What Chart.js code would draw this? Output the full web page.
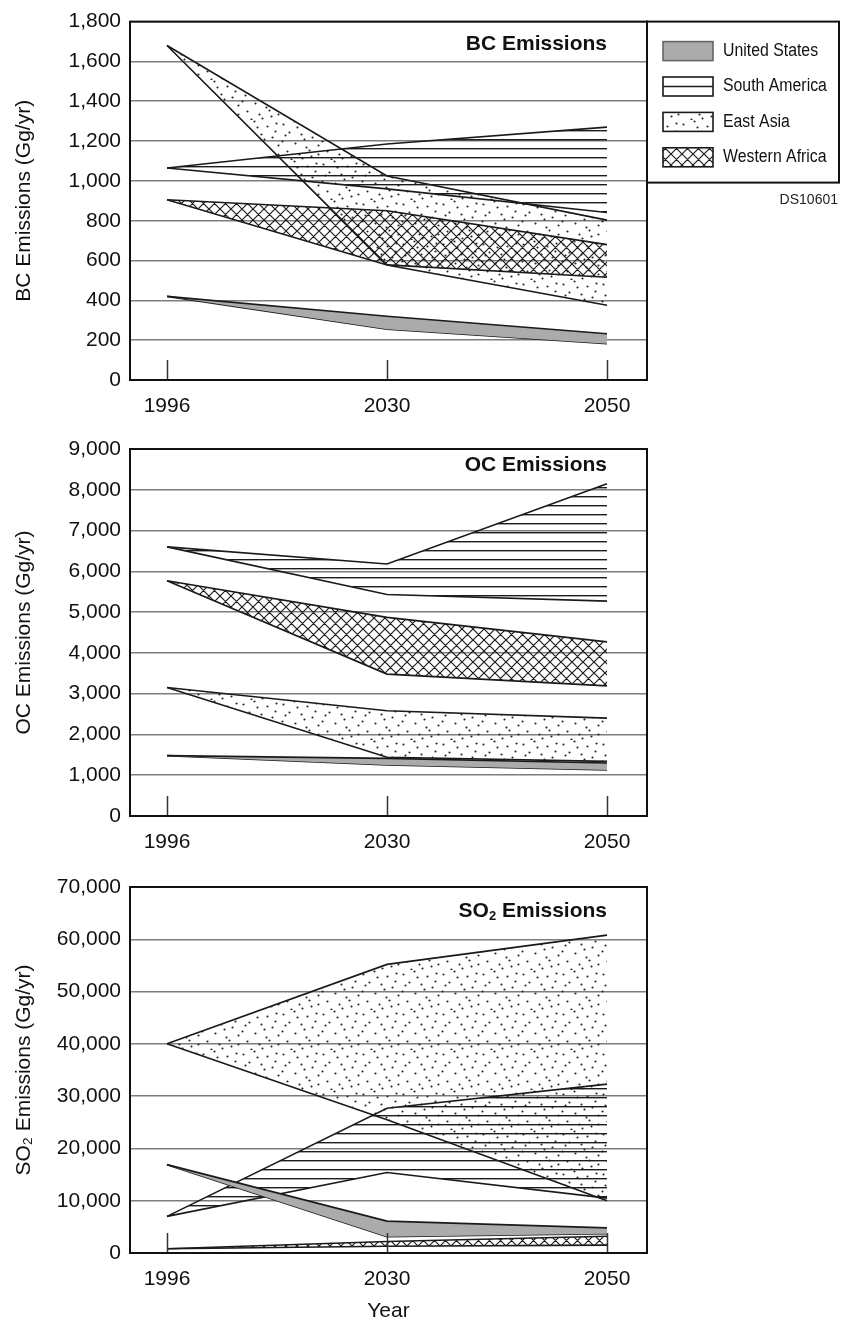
<!DOCTYPE html>
<html><head><meta charset="utf-8">
<script src="https://cdn.jsdelivr.net/npm/chart.js@4.4.1/dist/chart.umd.min.js"></script>
<style>
html,body{margin:0;padding:0;background:#fff;}
body{width:842px;height:1322px;position:relative;overflow:hidden;}
canvas{position:absolute;left:0;}
</style></head><body>
<canvas id="c1" width="842" height="425" style="top:0px"></canvas>
<canvas id="c2" width="842" height="440" style="top:420px"></canvas>
<canvas id="c3" width="842" height="472" style="top:850px"></canvas>
<script>
// ---------- data ----------
const years = ['1996', '2030', '2050'];
const regions = ['United States', 'South America', 'East Asia', 'Western Africa'];

// BC emissions (Gg/yr): high / low scenario envelope
const bcUSHigh = [420, 320, 232];
const bcUSLow  = [420, 255, 182];
const bcSAHigh = [1065, 1185, 1270];
const bcSALow  = [1065, 960, 841];
const bcEAHigh = [1680, 1025, 803];
const bcEALow  = [1680, 578, 375];
const bcWAHigh = [905, 850, 680];
const bcWALow  = [905, 578, 516];
const bcYTicks = [0, 200, 400, 600, 800, 1000, 1200, 1400, 1600, 1800];

// OC emissions (Gg/yr)
const ocUSHigh = [1480, 1414, 1300];
const ocUSLow  = [1480, 1250, 1130];
const ocSAHigh = [6600, 6180, 8150];
const ocSALow  = [6600, 5430, 5270];
const ocEAHigh = [3150, 2580, 2400];
const ocEALow  = [3150, 1440, 1340];
const ocWAHigh = [5770, 4870, 4270];
const ocWALow  = [5770, 3480, 3190];
const ocYTicks = [0, 1000, 2000, 3000, 4000, 5000, 6000, 7000, 8000, 9000];

// SO2 emissions (Gg/yr)
const soUSHigh = [16900, 6100, 4800];
const soUSLow  = [16900, 3100, 3700];
const soSAHigh = [7000, 27700, 32300];
const soSALow  = [7000, 15400, 10500];
const soEAHigh = [40000, 55200, 60800];
const soEALow  = [40000, 25500, 10000];
const soWAHigh = [800, 2200, 3200];
const soWALow  = [800, 1300, 1500];
const soYTicks = [0, 10000, 20000, 30000, 40000, 50000, 60000, 70000];

// ---------- styles ----------
const FONT = "'Liberation Sans', Arial, 'DejaVu Sans', sans-serif";
const INK = '#1a1a1a';

function makePattern(kind) {
  const c = document.createElement('canvas');
  const x = c.getContext('2d');
  if (kind === 'gray') { return '#ababab'; }
  if (kind === 'lines') {
    c.width = 4; c.height = 9;
    x.fillStyle = '#1c1c1c'; x.fillRect(0, 4, 4, 1.4);
  } else if (kind === 'dots') {
    c.width = 40; c.height = 40;
    const pts = [[3,4],[14,1],[27,6],[36,3],[9,12],[21,14],[32,17],[2,21],[15,23],[26,27],
                 [38,25],[7,31],[19,34],[31,36],[11,39],[24,19],[35,11],[5,15],[29,30],[17,7],[38,34],[22,38]];
    x.fillStyle = '#222';
    pts.forEach(([a, b]) => { x.beginPath(); x.arc(a + 0.5, b + 0.5, 1.05, 0, Math.PI * 2); x.fill(); });
  } else if (kind === 'cross') {
    c.width = 11; c.height = 11;
    x.strokeStyle = '#1c1c1c'; x.lineWidth = 1.2;
    x.beginPath();
    [-11, 0, 11].forEach(k => { x.moveTo(k, 0); x.lineTo(k + 11, 11); x.moveTo(k, 11); x.lineTo(k + 11, 0); });
    x.stroke();
  }
  return x.createPattern(c, 'repeat');
}
const regionFill = [makePattern('gray'), makePattern('lines'), makePattern('dots'), makePattern('cross')];
const regionOrder = [1, 3, 4, 2]; // US on top, then W. Africa, S. America, E. Asia

function buildDatasets(pairs) {
  const ds = [];
  pairs.forEach(([hi, lo], r) => {
    const base = ds.length;
    ds.push({ label: regions[r] + ' high', data: years.map((_, i) => ({ x: i, y: hi[i] })),
      borderColor: INK, borderWidth: 1.6, pointRadius: 0, tension: 0,
      backgroundColor: regionFill[r], fill: { target: base + 1 }, order: regionOrder[r] });
    ds.push({ label: regions[r] + ' low', data: years.map((_, i) => ({ x: i, y: lo[i] })),
      borderColor: INK, borderWidth: 1.6, pointRadius: 0, tension: 0, fill: false, order: regionOrder[r] });
  });
  return ds;
}

function decoPlugin(cfg) {
  return {
    id: 'deco',
    afterDatasetsDraw(chart) {
      const ctx = chart.ctx, a = chart.chartArea, xs = chart.scales.x;
      ctx.save();
      ctx.strokeStyle = '#333'; ctx.lineWidth = 1.5;
      years.forEach((_, i) => {
        const px = Math.round(xs.getPixelForValue(i)) + 0.5;
        ctx.beginPath(); ctx.moveTo(px, a.bottom); ctx.lineTo(px, a.bottom - 20); ctx.stroke();
      });
      ctx.restore();
    },
    afterDraw(chart) {
      const ctx = chart.ctx, a = chart.chartArea, xs = chart.scales.x;
      ctx.save();
      ctx.strokeStyle = '#111'; ctx.lineWidth = 2;
      ctx.strokeRect(a.left, a.top, a.right - a.left, a.bottom - a.top);
      // title inside plot, right aligned at last category
      const big = 'bold 21px ' + FONT, small = 'bold 13px ' + FONT;
      let w = 0;
      cfg.title.forEach(([t, sub]) => { ctx.font = sub ? small : big; w += ctx.measureText(t).width; });
      let tx = xs.getPixelForValue(years.length - 1) - w;
      const ty = a.top + cfg.titleOffset;
      ctx.fillStyle = '#111'; ctx.textBaseline = 'middle'; ctx.textAlign = 'left';
      cfg.title.forEach(([t, sub]) => {
        ctx.font = sub ? small : big;
        ctx.fillText(t, tx, sub ? ty + 5 : ty);
        tx += ctx.measureText(t).width;
      });
      if (cfg.legend) {
        const lx = a.right, ly = a.top, lw = 192, lh = 161;
        ctx.lineWidth = 2; ctx.strokeStyle = '#111';
        ctx.strokeRect(lx, ly, lw, lh);
        regions.forEach((name, r) => {
          const cy = ly + 29.5 + r * 35.4;
          const sx = lx + 16, sw = 50, sh = 19, sy = cy - sh / 2;
          ctx.fillStyle = regionFill[r];
          ctx.fillRect(sx, sy, sw, sh);
          ctx.lineWidth = 1.6; ctx.strokeStyle = r === 0 ? '#666' : INK;
          if (r === 1) {
            ctx.fillStyle = '#fff'; ctx.fillRect(sx, sy, sw, sh);
            ctx.beginPath(); ctx.moveTo(sx, cy); ctx.lineTo(sx + sw, cy); ctx.stroke();
          }
          ctx.strokeRect(sx, sy, sw, sh);
          ctx.save();
          ctx.translate(lx + 76, cy);
          ctx.scale(0.88, 1);
          ctx.font = '18px ' + FONT; ctx.fillStyle = '#111'; ctx.textBaseline = 'middle'; ctx.textAlign = 'left';
          ctx.fillText(name, 0, 0);
          ctx.restore();
        });
        ctx.font = '14px ' + FONT; ctx.fillStyle = '#222'; ctx.textAlign = 'right'; ctx.textBaseline = 'middle';
        ctx.fillText('DS10601', lx + lw - 1, ly + lh + 18);
      }
      ctx.restore();
    }
  };
}

function makeChart(id, cfg) {
  const tickFont = { family: FONT, size: 21 };
  return new Chart(document.getElementById(id), {
    type: 'line',
    data: { datasets: buildDatasets(cfg.pairs) },
    options: {
      responsive: false, animation: false, devicePixelRatio: 1,
      layout: { padding: { left: 0, right: 195, top: cfg.padTop, bottom: 0 } },
      plugins: { legend: { display: false }, tooltip: { enabled: false } },
      scales: {
        x: {
          type: 'linear', min: -0.1682, max: 2.1818,
          afterBuildTicks: s => { s.ticks = years.map((_, i) => ({ value: i })); },
          afterFit: s => { s.height = cfg.xAxisH; },
          grid: { display: false, drawTicks: false }, border: { display: false },
          ticks: { callback: v => years[v], font: tickFont, color: '#111', padding: 14, maxRotation: 0, autoSkip: false },
          title: { display: !!cfg.xTitle, text: cfg.xTitle || '', font: { family: FONT, size: 21, lineHeight: 1.0 }, color: '#111', padding: { top: 0, bottom: 0 } }
        },
        y: {
          min: 0, max: cfg.yTicks[cfg.yTicks.length - 1],
          afterBuildTicks: s => { s.ticks = cfg.yTicks.map(v => ({ value: v })); },
          afterFit: s => { s.width = 130; },
          grid: { color: '#7d7d7d', lineWidth: 1.5, drawTicks: false },
          border: { display: false },
          ticks: { callback: v => Number(v).toLocaleString('en-US'), font: tickFont, color: '#111', padding: 9 },
          title: { display: true, text: cfg.yTitle, font: { family: FONT, size: 21 }, color: '#111', padding: { top: 12, bottom: 0 } }
        }
      }
    },
    plugins: [decoPlugin(cfg)]
  });
}

makeChart('c1', {
  pairs: [[bcUSHigh, bcUSLow], [bcSAHigh, bcSALow], [bcEAHigh, bcEALow], [bcWAHigh, bcWALow]],
  yTicks: bcYTicks, yTitle: 'BC Emissions (Gg/yr)', title: [['BC Emissions', 0]], titleOffset: 23,
  padTop: 14, xAxisH: 45, legend: true
});
makeChart('c2', {
  pairs: [[ocUSHigh, ocUSLow], [ocSAHigh, ocSALow], [ocEAHigh, ocEALow], [ocWAHigh, ocWALow]],
  yTicks: ocYTicks, yTitle: 'OC Emissions (Gg/yr)', title: [['OC Emissions', 0]], titleOffset: 16,
  padTop: 29, xAxisH: 44, legend: false
});
makeChart('c3', {
  pairs: [[soUSHigh, soUSLow], [soSAHigh, soSALow], [soEAHigh, soEALow], [soWAHigh, soWALow]],
  yTicks: soYTicks, yTitle: 'SO\u2082 Emissions (Gg/yr)', title: [['SO', 0], ['2', 1], [' Emissions', 0]], titleOffset: 24,
  padTop: 37, xAxisH: 69, xTitle: 'Year', legend: false
});
</script>
</body></html>
